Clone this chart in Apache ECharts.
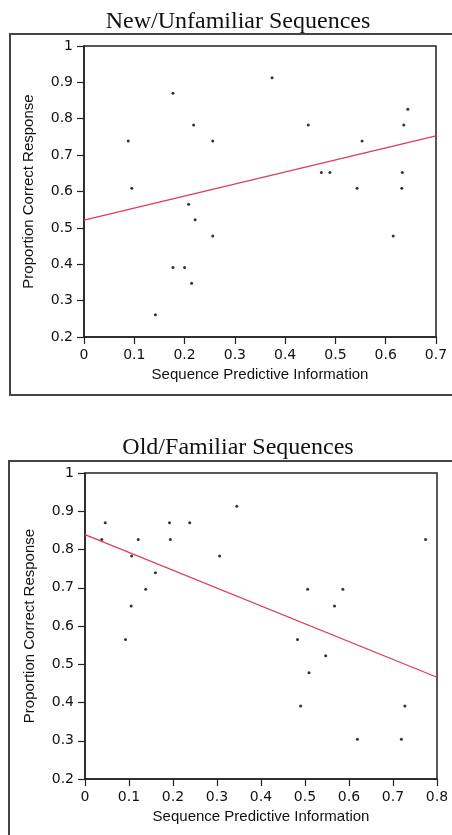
<!DOCTYPE html>
<html>
<head>
<meta charset="utf-8">
<script src="https://cdn.jsdelivr.net/npm/echarts@6/dist/echarts.min.js"></script>
<style>
html,body{margin:0;padding:0;background:#fff;}
#c{width:452px;height:835px;}
</style>
</head>
<body>
<div id="c"></div>
<script>
// New/Unfamiliar sequences: [predictive information, proportion correct]
const newX = [0.088,0.095,0.142,0.177,0.177,0.200,0.208,0.214,0.218,0.221,0.256,0.256,0.374,0.446,0.472,0.489,0.543,0.553,0.615,0.632,0.633,0.636,0.644];
const newY = [0.739,0.609,0.261,0.870,0.391,0.391,0.565,0.348,0.783,0.522,0.739,0.478,0.913,0.783,0.652,0.652,0.609,0.739,0.478,0.609,0.652,0.783,0.826];
const newFitX = [0, 0.7];
const newFitY = [0.521, 0.753];

// Old/Familiar sequences
const oldX = [0.038,0.046,0.092,0.105,0.106,0.121,0.138,0.160,0.192,0.194,0.238,0.306,0.345,0.483,0.490,0.506,0.509,0.547,0.567,0.586,0.619,0.719,0.727,0.774];
const oldY = [0.826,0.870,0.565,0.652,0.783,0.826,0.696,0.739,0.870,0.826,0.870,0.783,0.913,0.565,0.391,0.696,0.478,0.522,0.652,0.696,0.304,0.304,0.391,0.826];
const oldFitX = [0, 0.8];
const oldFitY = [0.839, 0.466];

const yTicks = {min:0.2, max:1, interval:0.1};
const xTicksNew = {min:0, max:0.7, interval:0.1};
const xTicksOld = {min:0, max:0.8, interval:0.1};

const titles = ['New/Unfamiliar Sequences', 'Old/Familiar Sequences'];
const xName = 'Sequence Predictive Information';
const yName = 'Proportion Correct Response';

const pair = (xs, ys) => xs.map((x, i) => [x, ys[i]]);

const axisCommon = {
  axisLine:{show:true, lineStyle:{color:'#222', width:1.5}},
  axisTick:{show:true, inside:false, length:7, lineStyle:{color:'#222', width:1.2}},
  splitLine:{show:false},
  axisLabel:{color:'#111', fontFamily:'DejaVu Sans', fontSize:14, margin:11,
    formatter: v => String(Math.round(v*10)/10)}
};
const nameStyle = {fontFamily:'Liberation Sans', fontSize:15, color:'#111'};

function xAxis(idx, t){
  return Object.assign({}, axisCommon, {type:'value', gridIndex:idx, min:t.min, max:t.max, interval:t.interval,
    name:xName, nameLocation:'middle', nameGap:30, nameTextStyle:nameStyle});
}
function yAxis(idx){
  return Object.assign({}, axisCommon, {type:'value', gridIndex:idx, min:yTicks.min, max:yTicks.max, interval:yTicks.interval,
    name:yName, nameLocation:'middle', nameGap:48, nameTextStyle:nameStyle});
}

const chart = echarts.init(document.getElementById('c'), null, {renderer:'canvas'});
chart.setOption({
  animation:false,
  backgroundColor:'#fff',
  title:[
    {text:titles[0], left:233, textAlign:'center', top:5, textStyle:{fontFamily:'Liberation Serif', fontSize:24, fontWeight:'normal', color:'#111'}},
    {text:titles[1], left:233, textAlign:'center', top:431, textStyle:{fontFamily:'Liberation Serif', fontSize:24, fontWeight:'normal', color:'#111'}}
  ],
  graphic:[
    {type:'rect', shape:{x:10, y:34, width:460, height:361}, style:{fill:'none', stroke:'#444', lineWidth:2}, silent:true},
    {type:'rect', shape:{x:9, y:461, width:460, height:420}, style:{fill:'none', stroke:'#444', lineWidth:2}, silent:true}
  ],
  grid:[
    {left:84, top:46, width:352, height:291, show:true, borderColor:'#222', borderWidth:1.5, backgroundColor:'transparent'},
    {left:85, top:473, width:352, height:306, show:true, borderColor:'#222', borderWidth:1.5, backgroundColor:'transparent'}
  ],
  xAxis:[xAxis(0, xTicksNew), xAxis(1, xTicksOld)],
  yAxis:[yAxis(0), yAxis(1)],
  series:[
    {type:'scatter', xAxisIndex:0, yAxisIndex:0, data:pair(newX, newY), symbolSize:3, itemStyle:{color:'#000'}},
    {type:'line', xAxisIndex:0, yAxisIndex:0, data:pair(newFitX, newFitY), showSymbol:false, symbol:'none', lineStyle:{color:'#dc3c5c', width:1.3}},
    {type:'scatter', xAxisIndex:1, yAxisIndex:1, data:pair(oldX, oldY), symbolSize:3, itemStyle:{color:'#000'}},
    {type:'line', xAxisIndex:1, yAxisIndex:1, data:pair(oldFitX, oldFitY), showSymbol:false, symbol:'none', lineStyle:{color:'#dc3c5c', width:1.3}}
  ]
});
</script>
</body>
</html>
